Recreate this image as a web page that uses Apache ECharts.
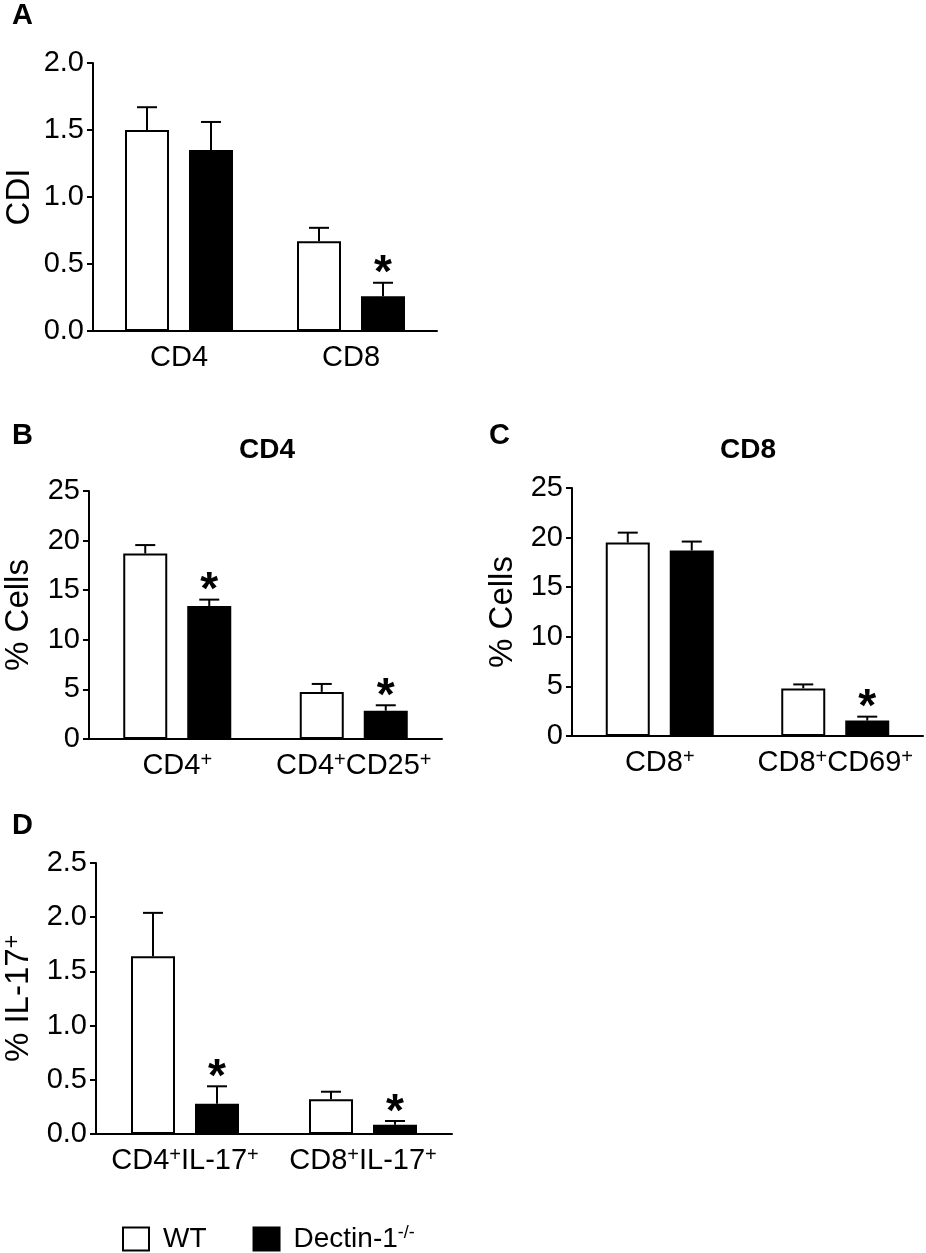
<!DOCTYPE html>
<html>
<head>
<meta charset="utf-8">
<script src="https://cdn.jsdelivr.net/npm/echarts@6/dist/echarts.min.js"></script>
<style>
  html, body { margin: 0; padding: 0; background: #fff; }
  #main { width: 926px; height: 1253px; }
</style>
</head>
<body>
<div id="main"></div>
<script>
// panel A - CDI
var catsA = ['CD4', 'CD8'];
var wtA = [1.5, 0.67];
var wtErrA = [0.17, 0.10];
var koA = [1.35, 0.26];
var koErrA = [0.21, 0.10];
var starA = [0, 1];

// panel B - CD4 % cells
var catsB = ['CD4+', 'CD4+CD25+'];
var wtB = [18.7, 4.75];
var wtErrB = [0.85, 0.8];
var koB = [13.4, 2.85];
var koErrB = [0.65, 0.55];
var starB = [1, 1];

// panel C - CD8 % cells
var catsC = ['CD8+', 'CD8+CD69+'];
var wtC = [19.5, 4.8];
var wtErrC = [1.0, 0.4];
var koC = [18.7, 1.55];
var koErrC = [0.9, 0.4];
var starC = [0, 1];

// panel D - % IL-17+
var catsD = ['CD4+IL-17+', 'CD8+IL-17+'];
var wtD = [1.64, 0.32];
var wtErrD = [0.40, 0.07];
var koD = [0.28, 0.085];
var koErrD = [0.16, 0.035];
var starD = [1, 1];

var FONT = 'Liberation Sans';
var BAR_W = 44;
var BAR_GAP = 20;

var chart = echarts.init(document.getElementById('main'));

// "CD4+CD25+" -> rich text with superscript plus signs
var supLabel = function (s) {
    var parts = s.split('+');
    var out = '';
    for (var i = 0; i < parts.length; i++) {
        if (parts[i] !== '') out += '{n|' + parts[i] + '}';
        if (i < parts.length - 1) out += '{s|+}';
    }
    return out;
};

var richSup = {
    n: { fontFamily: FONT, fontSize: 29, color: '#000', lineHeight: 32 },
    s: { fontFamily: FONT, fontSize: 20, color: '#000', lineHeight: 2, verticalAlign: 'top' }
};

var makeX = function (idx, cats) {
    return {
        type: 'category', gridIndex: idx, data: cats,
        axisLine: { lineStyle: { color: '#000', width: 2 } },
        axisTick: { alignWithLabel: true, length: 7, lineStyle: { color: '#000', width: 2 } },
        axisLabel: { interval: 0, margin: 11, formatter: supLabel, rich: richSup }
    };
};

var makeY = function (idx, max, interval, digits, name, gap) {
    return {
        type: 'value', gridIndex: idx, min: 0, max: max, interval: interval,
        name: name, nameLocation: 'middle', nameRotate: 90, nameGap: gap,
        nameTextStyle: {
            fontFamily: FONT, fontSize: 33, color: '#000',
            rich: {
                n: { fontFamily: FONT, fontSize: 33, color: '#000', lineHeight: 36 },
                s: { fontFamily: FONT, fontSize: 23, color: '#000', lineHeight: 4, verticalAlign: 'top' }
            }
        },
        splitLine: { show: false },
        axisLine: { show: true, lineStyle: { color: '#000', width: 2 } },
        axisTick: { show: true, length: 6, lineStyle: { color: '#000', width: 2 } },
        axisLabel: {
            margin: 9, fontFamily: FONT, fontSize: 29, color: '#000',
            formatter: function (v) { return v.toFixed(digits); }
        }
    };
};

var errData = function (vals, errs, stars) {
    var d = [];
    for (var i = 0; i < vals.length; i++) d.push([i, vals[i], errs[i], stars[i]]);
    return d;
};

var errSeries = function (idx, vals, errs, stars, side) {
    return {
        type: 'custom', name: 'err' + idx + side, xAxisIndex: idx, yAxisIndex: idx,
        z: 5, silent: true,
        encode: { x: 0, y: 1 },
        data: errData(vals, errs, stars),
        renderItem: function (params, api) {
            var i = api.value(0), v = api.value(1), e = api.value(2), st = api.value(3);
            var p0 = api.coord([i, v]);
            var p1 = api.coord([i, v + e]);
            var x = p0[0] + side * (BAR_W + BAR_GAP) / 2;
            var kids = [
                { type: 'line', shape: { x1: x, y1: p0[1], x2: x, y2: p1[1] }, style: { stroke: '#000', lineWidth: 2 } },
                { type: 'line', shape: { x1: x - 10, y1: p1[1], x2: x + 10, y2: p1[1] }, style: { stroke: '#000', lineWidth: 2 } }
            ];
            if (st) {
                kids.push({
                    type: 'text',
                    style: {
                        x: x, y: p1[1] + 15, text: '*', textAlign: 'center', textVerticalAlign: 'bottom',
                        fontFamily: FONT, fontWeight: 'bold', fontSize: 46, fill: '#000'
                    }
                });
            }
            return { type: 'group', children: kids };
        }
    };
};

var barPair = function (idx, wt, ko) {
    return [
        {
            type: 'bar', name: 'WT', xAxisIndex: idx, yAxisIndex: idx, data: wt,
            barWidth: BAR_W, barGap: (BAR_GAP / BAR_W * 100) + '%',
            itemStyle: { color: '#fff', borderColor: '#000', borderWidth: 2 }
        },
        {
            type: 'bar', name: 'Dectin-1', xAxisIndex: idx, yAxisIndex: idx, data: ko,
            barWidth: BAR_W, barGap: (BAR_GAP / BAR_W * 100) + '%',
            itemStyle: { color: '#000', borderColor: '#000', borderWidth: 2 }
        }
    ];
};

var series = [].concat(
    barPair(0, wtA, koA), barPair(1, wtB, koB), barPair(2, wtC, koC), barPair(3, wtD, koD),
    [
        errSeries(0, wtA, wtErrA, [0, 0], -1), errSeries(0, koA, koErrA, starA, 1),
        errSeries(1, wtB, wtErrB, [0, 0], -1), errSeries(1, koB, koErrB, starB, 1),
        errSeries(2, wtC, wtErrC, [0, 0], -1), errSeries(2, koC, koErrC, starC, 1),
        errSeries(3, wtD, wtErrD, [0, 0], -1), errSeries(3, koD, koErrD, starD, 1)
    ]
);

var panelLetter = function (txt, x, y) {
    return {
        type: 'text', left: x, top: y,
        style: { text: txt, fontFamily: FONT, fontWeight: 'bold', fontSize: 29, fill: '#000' }
    };
};

var option = {
    animation: false,
    backgroundColor: '#fff',
    title: [
        { text: 'CD4', left: 234, top: 431, textStyle: { fontFamily: FONT, fontWeight: 'bold', fontSize: 28, color: '#000' } },
        { text: 'CD8', left: 715, top: 431, textStyle: { fontFamily: FONT, fontWeight: 'bold', fontSize: 28, color: '#000' } }
    ],
    graphic: [
        panelLetter('A', 12, 1),
        panelLetter('B', 12, 421),
        panelLetter('C', 489, 421),
        panelLetter('D', 12, 811)
    ],
    legend: {
        data: ['WT', 'Dectin-1'],
        left: 122, top: 1224, padding: 0,
        icon: 'rect', itemWidth: 26, itemHeight: 23, itemGap: 46,
        selectedMode: false,
        textStyle: {
            fontFamily: FONT, fontSize: 28, color: '#000', padding: [0, 0, 0, 9],
            rich: {
                n: { fontFamily: FONT, fontSize: 28, color: '#000', lineHeight: 30 },
                s: { fontFamily: FONT, fontSize: 18, color: '#000', lineHeight: 2, verticalAlign: 'top' }
            }
        },
        formatter: function (name) {
            return name === 'WT' ? '{n|WT}' : '{n|Dectin-1}{s|-/-}';
        }
    },
    grid: [
        { left: 93, top: 63, width: 344, height: 268 },
        { left: 89, top: 491, width: 353, height: 248 },
        { left: 572, top: 488, width: 351, height: 248 },
        { left: 95, top: 863, width: 357, height: 271 }
    ],
    xAxis: [makeX(0, catsA), makeX(1, catsB), makeX(2, catsC), makeX(3, catsD)],
    yAxis: [
        makeY(0, 2, 0.5, 1, 'CDI', 57),
        makeY(1, 25, 5, 0, '% Cells', 54),
        makeY(2, 25, 5, 0, '% Cells', 53),
        makeY(3, 2.5, 0.5, 1, '{n|% IL-17}{s|+}', 59)
    ],
    series: series
};

chart.setOption(option);
</script>
</body>
</html>
